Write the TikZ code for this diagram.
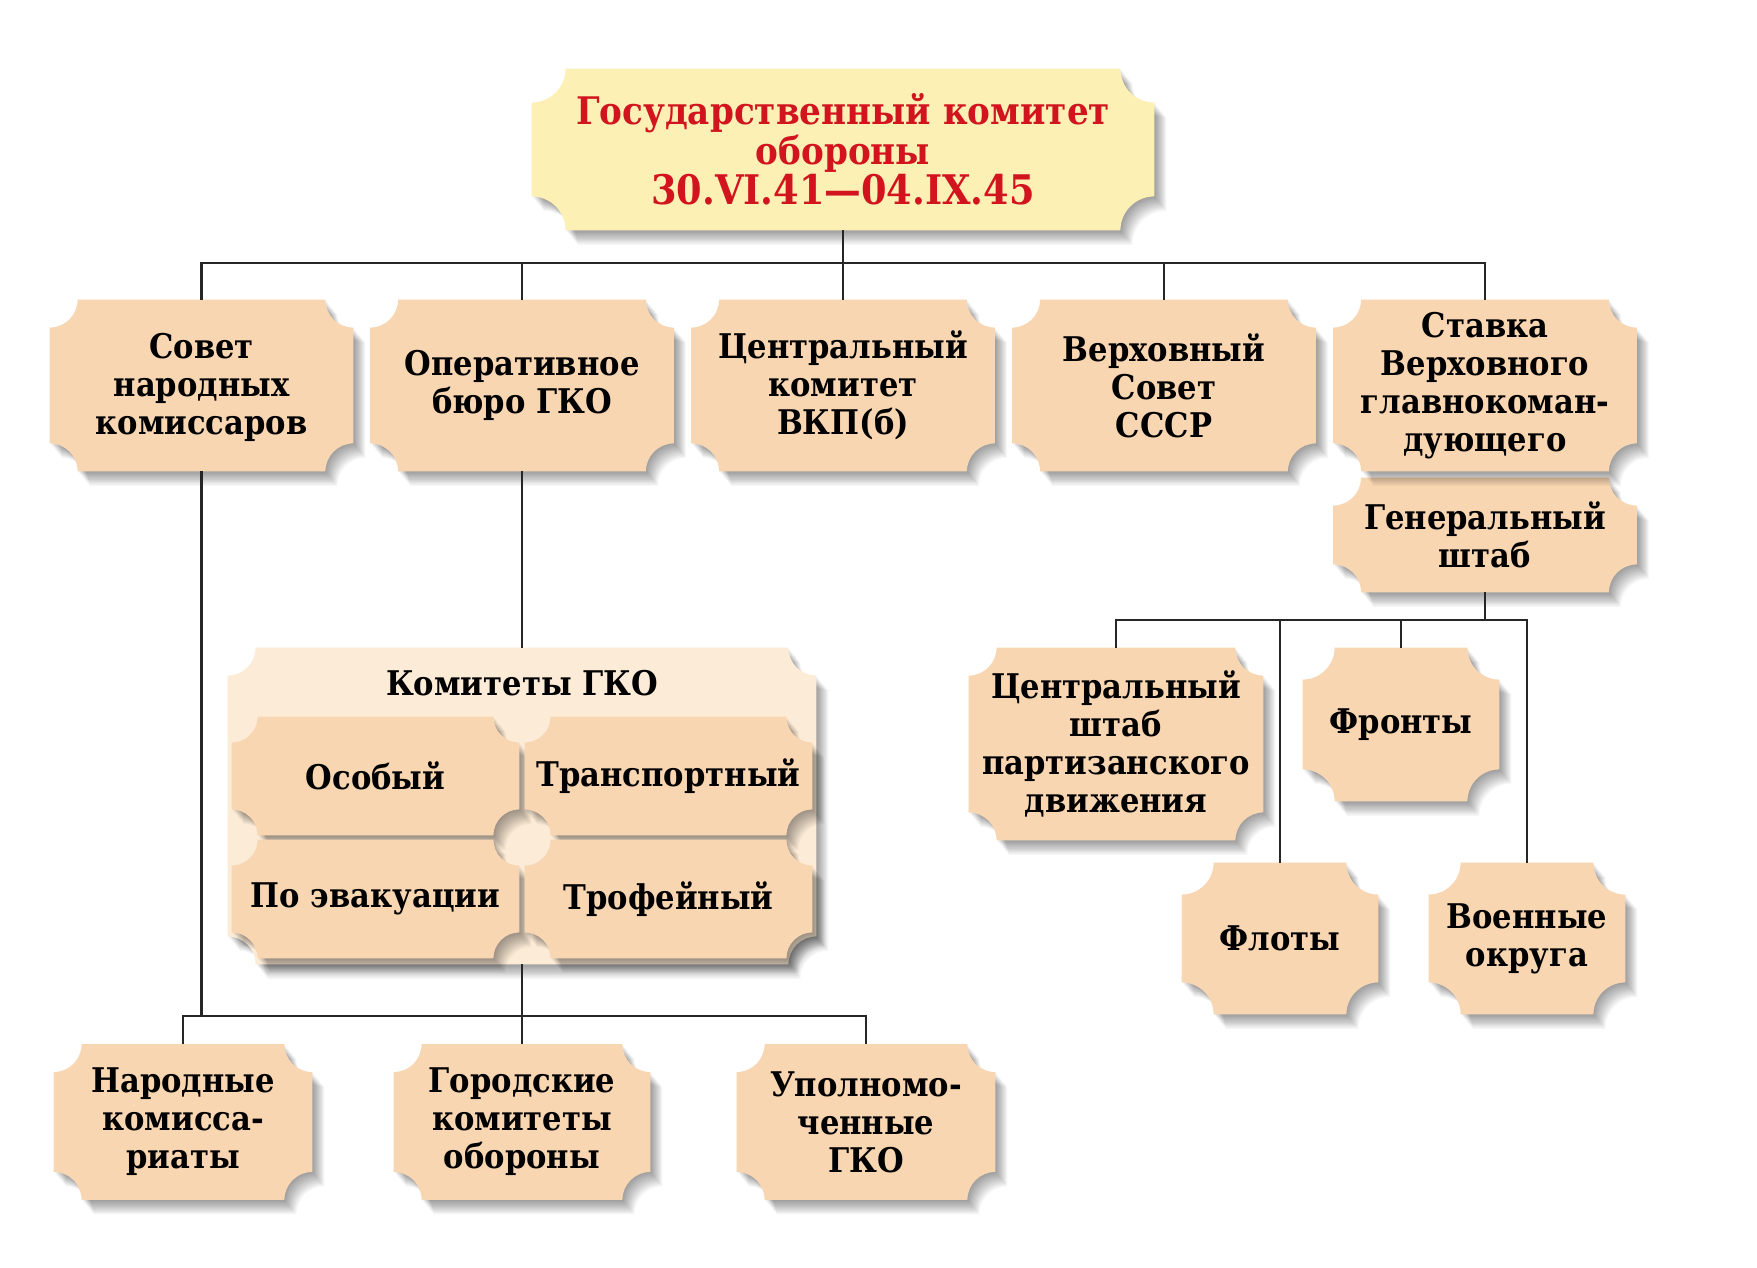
\documentclass[tikz,border=0pt]{standalone}
\usepackage{fontspec}
\setmainfont{DejaVu Serif}[FakeStretch=0.9]
\usetikzlibrary{calc}
\pgfdeclarelayer{background}
\pgfsetlayers{background,main}
\definecolor{peach}{HTML}{F9D6B2}
\definecolor{pale}{HTML}{FCF0B5}
\definecolor{cream}{HTML}{FCEBD6}
\definecolor{redtxt}{HTML}{D2141E}
\definecolor{linec}{HTML}{262626}
% #1 node, #2 radius, #3 dx, #4 dy, #5 options
\newcommand\tktshape[5]{%
  \path[#5] let \p1=(#1.south west), \p2=(#1.north east) in
    (\x1+#2+#3,\y2+#4) -- (\x2-#2+#3,\y2+#4) arc[start angle=180,end angle=270,radius=#2]
    -- (\x2+#3,\y1+#2+#4) arc[start angle=90,end angle=180,radius=#2]
    -- (\x1+#2+#3,\y1+#4) arc[start angle=0,end angle=90,radius=#2]
    -- (\x1+#3,\y2-#2+#4) arc[start angle=270,end angle=360,radius=#2] -- cycle;}
\newcommand\tkt[3][14pt]{%
  \begin{pgfonlayer}{background}
    \foreach \k in {1,...,12}{\tktshape{#2}{#1}{\k*0.5pt}{-\k*0.6pt}{fill=black,opacity=0.035}}
    \tktshape{#2}{#1}{0pt}{0pt}{fill=#3}
  \end{pgfonlayer}}
\tikzset{
  box/.style={inner sep=0pt,align=center,text=black,font=\bfseries\fontsize{17}{19}\selectfont},
  conn/.style={draw=linec,line width=1.2pt}
}
\begin{document}
\begin{tikzpicture}[x=0.5pt,y=0.5pt]
\begin{pgfonlayer}{background}
\fill[white] (0,0) rectangle (1757,-1268);
\end{pgfonlayer}
\useasboundingbox (0,0) rectangle (1757,-1268);
% top
\node[box,minimum width=311pt,minimum height=80.5pt,text=redtxt,font=\bfseries\fontsize{19}{20}\selectfont] (top) at (843,-149.5)
  {Государственный комитет\\обороны\\{\fontsize{20.4}{20}\selectfont 30.VI.41—04.IX.45}};
\tkt[17pt]{top}{pale}
% row 1
\node[box,minimum width=151.5pt,minimum height=85.5pt,text depth=2pt] (b1) at (201.5,-385.5) {Совет\\народных\\комиссаров};
\tkt{b1}{peach}
\node[box,minimum width=151.5pt,minimum height=85.5pt] (b2) at (522,-385.5) {Оперативное\\бюро ГКО};
\tkt{b2}{peach}
\node[box,minimum width=151.5pt,minimum height=85.5pt] (b3) at (843,-385.5) {Центральный\\комитет\\ВКП(б)};
\tkt{b3}{peach}
\node[box,minimum width=151.5pt,minimum height=85.5pt] (b4) at (1164,-385.5) {Верховный\\Совет\\СССР};
\tkt{b4}{peach}
\node[box,minimum width=151.5pt,minimum height=57pt] (gs) at (1485,-535) {Генеральный\\штаб};
\tkt{gs}{peach}
\node[box,minimum width=151.5pt,minimum height=85.5pt] (b5) at (1485,-385.5) {Ставка\\Верховного\\главнокоман-\\дующего};
\tkt{b5}{peach}
% committees
\node[box,minimum width=294pt,minimum height=158pt] (kom) at (522,-806) {};
\tkt{kom}{cream}
\node[box] (komt) at (522,-683) {Комитеты ГКО};
\node[box,minimum width=143.5pt,minimum height=59pt] (k1) at (375.5,-776) {Особый};
\tkt[13pt]{k1}{peach}
\node[box,minimum width=143.5pt,minimum height=59pt] (k2) at (668.5,-776) {Транспортный};
\tkt[13pt]{k2}{peach}
\node[box,minimum width=143.5pt,minimum height=59pt] (k3) at (375.5,-899) {По эвакуации};
\tkt[13pt]{k3}{peach}
\node[box,minimum width=143.5pt,minimum height=59pt] (k4) at (668.5,-899) {Трофейный};
\tkt[13pt]{k4}{peach}
% bottom row
\node[box,minimum width=129pt,minimum height=77.5pt] (n1) at (183,-1122) {Народные\\комисса-\\риаты};
\tkt{n1}{peach}
\node[box,minimum width=128pt,minimum height=77.5pt] (n2) at (522,-1122) {Городские\\комитеты\\обороны};
\tkt{n2}{peach}
\node[box,minimum width=129pt,minimum height=77.5pt] (n3) at (866,-1122) {Уполномо-\\ченные\\ГКО};
\tkt{n3}{peach}
% right group
\node[box,minimum width=147pt,minimum height=96pt] (c1) at (1116,-744) {Центральный\\штаб\\партизанского\\движения};
\tkt{c1}{peach}
\node[box,minimum width=98pt,minimum height=76.5pt] (c2) at (1401,-724.5) {Фронты};
\tkt[16pt]{c2}{peach}
\node[box,minimum width=98pt,minimum height=75.5pt] (c3) at (1280,-938.5) {Флоты};
\tkt[16pt]{c3}{peach}
\node[box,minimum width=98pt,minimum height=75.5pt] (c4) at (1527,-938.5) {Военные\\округа};
\tkt[16pt]{c4}{peach}
% junctions
\coordinate (j1) at (843,-263);
\coordinate (j2) at (1485,-620);
\coordinate (j3) at (522,-1016);
% connectors
\draw[conn] (top.south) -- (j1);
\draw[conn] (b1.north) -- (b1.north|-j1) -- (b5.north|-j1) -- (b5.north);
\draw[conn] (b2.north) -- (b2.north|-j1);
\draw[conn] (b3.north) -- (b3.north|-j1);
\draw[conn] (b4.north) -- (b4.north|-j1);
\draw[conn] (gs.south) -- (j2);
\draw[conn] (c1.north) -- (c1.north|-j2) -- (c4.north|-j2) -- (c4.north);
\draw[conn] (c2.north) -- (c2.north|-j2);
\draw[conn] (c3.north) -- (c3.north|-j2);
\draw[conn] (b2.south) -- (kom.north);
\draw[conn] (b1.south) -- (b1.south|-j3);
\draw[conn] (kom.south) -- (j3);
\draw[conn] (n1.north) -- (n1.north|-j3) -- (n3.north|-j3) -- (n3.north);
\draw[conn] (n2.north) -- (n2.north|-j3);
\end{tikzpicture}
\end{document}
